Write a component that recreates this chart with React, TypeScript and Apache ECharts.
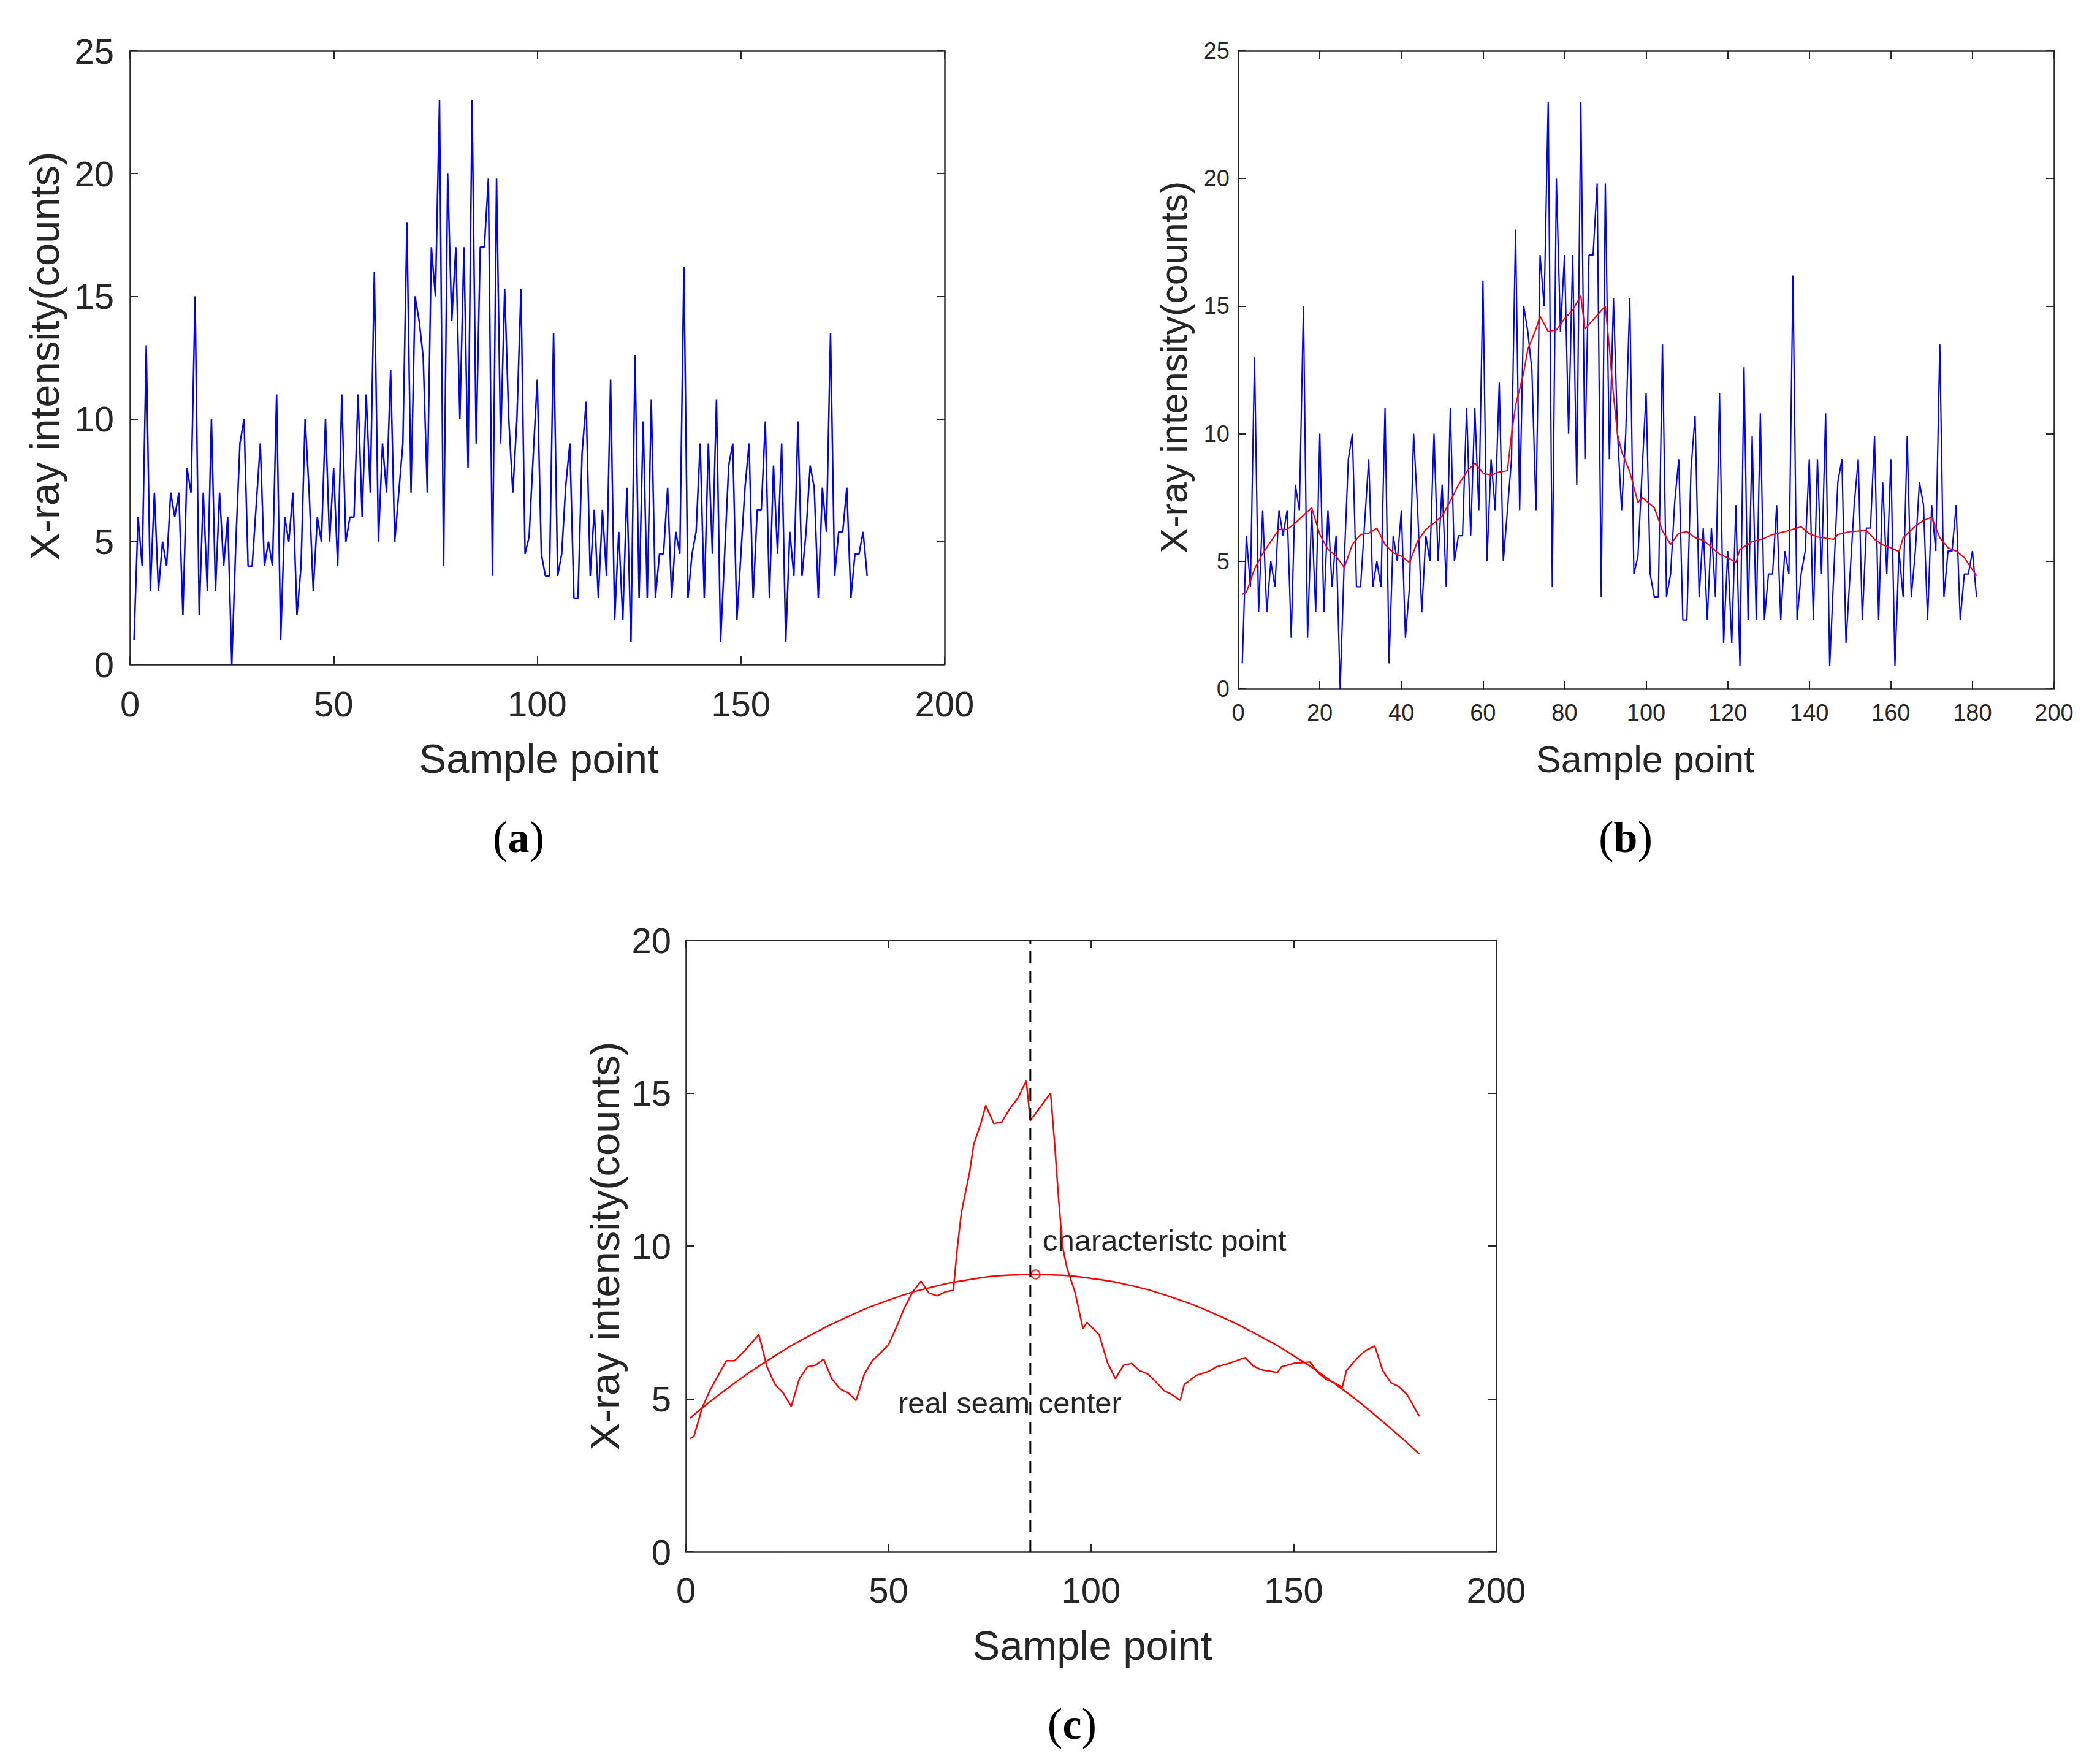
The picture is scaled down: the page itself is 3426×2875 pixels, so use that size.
import React, { useEffect, useRef } from "react";
import * as echarts from "echarts";

// Raw X-ray intensity counts, sample points 1..181
const rawCounts = [
  1, 6, 4, 13, 3, 7, 3, 5, 4, 7,
  6, 7, 2, 8, 7, 15, 2, 7, 3, 10,
  3, 7, 4, 6, 0, 5, 9, 10, 4, 4,
  6.5, 9, 4, 5, 4, 11, 1, 6, 5, 7,
  2, 4, 10, 7, 3, 6, 5, 10, 5, 8,
  4, 11, 5, 6, 6, 11, 6, 11, 7, 16,
  5, 9, 7, 12, 5, 7, 9, 18, 7, 15,
  14, 12.5, 7, 17, 15, 23, 4, 20, 14, 17,
  10, 17, 8, 23, 9, 17, 17, 19.8, 3.6, 19.8,
  9, 15.3, 10, 7, 10, 15.3, 4.5, 5.2, 8.5, 11.6,
  4.5, 3.6, 3.6, 13.5, 3.6, 4.5, 7.3, 9, 2.7, 2.7,
  8.6, 10.7, 3.6, 6.3, 2.7, 6.3, 3.6, 11.6, 1.8, 5.4,
  1.8, 7.2, 0.9, 12.6, 2.7, 9.9, 2.7, 10.8, 2.7, 4.5,
  4.5, 7.2, 2.7, 5.4, 4.5, 16.2, 2.7, 4.5, 5.4, 9,
  2.7, 9, 4.5, 10.8, 0.9, 4.5, 8.1, 9, 1.8, 4.5,
  7.2, 9, 2.7, 6.3, 6.3, 9.9, 2.7, 8.1, 4.5, 9,
  0.9, 5.4, 3.6, 9.9, 3.6, 5.4, 8.1, 7.2, 2.7, 7.2,
  5.4, 13.5, 3.6, 5.4, 5.4, 7.2, 2.7, 4.5, 4.5, 5.4,
  3.6,
];

// Smoothed (filtered) curve, read at its vertices
const smoothX = [
  1, 2, 4, 6, 10, 12, 14, 16, 18, 20,
  22, 24, 26, 28, 30, 32, 34, 36, 38, 40,
  42, 44, 46, 48, 50, 52, 54, 56, 58, 60,
  62, 64, 66, 67, 68, 70, 71, 73, 74, 76,
  78, 80, 82, 84, 85, 90, 91, 92, 93, 94,
  96, 98, 99, 102, 104, 106, 108, 110, 112, 114,
  116, 118, 120, 122, 123, 126, 129, 131, 134, 138,
  140, 142, 146, 147, 150, 152, 154, 156, 158, 160,
  162, 163, 166, 168, 170, 172, 174, 176, 178, 181,
];
const smoothY = [
  3.7, 3.78, 4.7, 5.3, 6.25, 6.25, 6.5, 6.8, 7.1, 6.05,
  5.47, 5.2, 4.75, 5.66, 6.05, 6.1, 6.3, 5.66, 5.33, 5.2,
  4.95, 5.8, 6.25, 6.5, 6.77, 7.36, 8.0, 8.5, 8.85, 8.46,
  8.37, 8.5, 8.55, 9.96, 11.1, 12.4, 13.3, 14.1, 14.6, 14.0,
  14.06, 14.5, 14.85, 15.4, 14.1, 15.0, 13.35, 11.5, 9.96, 9.3,
  8.5, 7.3, 7.5, 7.1, 6.2, 5.66, 6.1, 6.16, 5.92, 5.82,
  5.56, 5.27, 5.14, 4.95, 5.47, 5.77, 5.9, 6.05, 6.16, 6.35,
  6.08, 5.95, 5.86, 6.05, 6.16, 6.18, 6.21, 5.86, 5.64, 5.53,
  5.38, 5.92, 6.38, 6.6, 6.73, 5.92, 5.53, 5.4, 5.14, 4.43,
];

// Fitted parabola
const fitX = [1, 10, 20, 30, 40, 50, 60, 70, 80, 86, 90, 100, 110, 120, 130, 140, 150, 160, 170, 181];
const fitY = [4.37, 5.32, 6.24, 7.03, 7.69, 8.23, 8.63, 8.9, 9.05, 9.07, 9.06, 8.94, 8.7, 8.32, 7.81, 7.17, 6.41, 5.51, 4.48, 3.2];

const seamCenterX = 85;
const seamLineY = [0, 20];
const featurePoint = [86.3, 9.07];

const FONT = "'Liberation Sans', Arial, Helvetica, sans-serif";
const SERIF = "'Liberation Serif', 'Times New Roman', serif";
const AX = "#262626";

function pairs(xs: number[], ys: number[]) {
  return xs.map((x, i) => [x, ys[i]]);
}

function axisPair(kind: "x" | "y", gridIndex: number, min: number, max: number, interval: number, fontSize: number, margin: number) {
  const base = {
    type: "value",
    gridIndex,
    min,
    max,
    interval,
    splitLine: { show: false },
    axisLine: { show: true, onZero: false, lineStyle: { color: AX, width: 2.5 } },
    axisTick: { show: true, inside: true, length: 13, lineStyle: { color: AX, width: 2 } },
  };
  const main = {
    ...base,
    position: kind === "x" ? "bottom" : "left",
    axisLabel: { show: true, fontSize, margin, color: AX, fontFamily: FONT },
  };
  const mirror = {
    ...base,
    position: kind === "x" ? "top" : "right",
    axisLabel: { show: false },
  };
  return [main, mirror];
}

function txt(x: number, y: number, text: string, fontSize: number, rot = 0, align = "center") {
  return {
    type: "text",
    x,
    y,
    rotation: rot,
    style: {
      text,
      fontSize,
      fontFamily: FONT,
      fill: AX,
      align,
      verticalAlign: "middle",
      textAlign: align,
      textVerticalAlign: "middle",
    },
  };
}

function panelLabel(x: number, y: number, letter: string) {
  return {
    type: "text",
    x,
    y,
    style: {
      text: "{p|(}{b|" + letter + "}{p|)}",
      align: "center",
      verticalAlign: "middle",
      textAlign: "center",
      textVerticalAlign: "middle",
      fill: "#000",
      rich: {
        p: { fontFamily: SERIF, fontSize: 74, fill: "#000" },
        b: { fontFamily: SERIF, fontSize: 70, fontWeight: "bold", fill: "#000" },
      },
    },
  };
}

export default function App() {
  const ref = useRef<HTMLDivElement>(null);
  useEffect(() => {
    if (!ref.current) return;
    const chart = echarts.init(ref.current, undefined, { renderer: "svg" });
    const raw = rawCounts.map((v, i) => [i + 1, v]);
    const smooth = pairs(smoothX, smoothY);
    const fit = pairs(fitX, fitY);
    const seam = seamLineY.map((y) => [seamCenterX, y]);

    const xa = [
      ...axisPair("x", 0, 0, 200, 50, 58, 35),
      ...axisPair("x", 1, 0, 200, 20, 38, 20),
      ...axisPair("x", 2, 0, 200, 50, 58, 33),
    ];
    const ya = [
      ...axisPair("y", 0, 0, 25, 5, 58, 26),
      ...axisPair("y", 1, 0, 25, 5, 38, 14),
      ...axisPair("y", 2, 0, 20, 5, 58, 24),
    ];

    const lineBase = { type: "line", showSymbol: false, symbol: "none", animation: false, silent: true };

    chart.setOption({
      animation: false,
      backgroundColor: "#ffffff",
      grid: [
        { left: 212, top: 83, width: 1329, height: 1001 },
        { left: 2020, top: 83, width: 1331, height: 1041 },
        { left: 1119, top: 1534, width: 1322, height: 998 },
      ],
      xAxis: xa,
      yAxis: ya,
      series: [
        { ...lineBase, xAxisIndex: 0, yAxisIndex: 0, data: raw, lineStyle: { color: "#0000ff", width: 2.5 } },
        { ...lineBase, xAxisIndex: 2, yAxisIndex: 2, data: raw, lineStyle: { color: "#0000ff", width: 2.2 } },
        { ...lineBase, xAxisIndex: 2, yAxisIndex: 2, data: smooth, lineStyle: { color: "#ff0000", width: 2.2 } },
        { ...lineBase, xAxisIndex: 4, yAxisIndex: 4, data: smooth, lineStyle: { color: "#ff0000", width: 2.5 } },
        { ...lineBase, xAxisIndex: 4, yAxisIndex: 4, data: fit, smooth: 0.5, lineStyle: { color: "#ff0000", width: 2.5 } },
        { ...lineBase, xAxisIndex: 4, yAxisIndex: 4, data: seam, lineStyle: { color: "#000000", width: 3, type: [20, 12] } },
        {
          type: "scatter",
          xAxisIndex: 4,
          yAxisIndex: 4,
          data: [featurePoint],
          symbol: "circle",
          symbolSize: 14,
          silent: true,
          itemStyle: { color: "rgba(255,255,255,0)", borderColor: "#ff0000", borderWidth: 2.5 },
        },
      ],
      graphic: [
        txt(879, 1237, "Sample point", 67),
        txt(72, 581, "X-ray intensity(counts)", 67, Math.PI / 2),
        txt(2684, 1239, "Sample point", 61),
        txt(1915, 599, "X-ray intensity(counts)", 61, Math.PI / 2),
        txt(1782, 2684, "Sample point", 67),
        txt(986, 2033, "X-ray intensity(counts)", 67, Math.PI / 2),
        txt(1701, 2024, "characteristc point", 49, 0, "left"),
        txt(1465, 2289, "real seam center", 49, 0, "left"),
        panelLabel(846, 1366, "a"),
        panelLabel(2652, 1366, "b"),
        panelLabel(1749, 2813, "c"),
      ],
    });
    return () => chart.dispose();
  }, []);
  return (
    <div
      ref={ref}
      style={{ position: "fixed", left: 0, top: 0, width: 3426, height: 2875, background: "#fff" }}
    />
  );
}
